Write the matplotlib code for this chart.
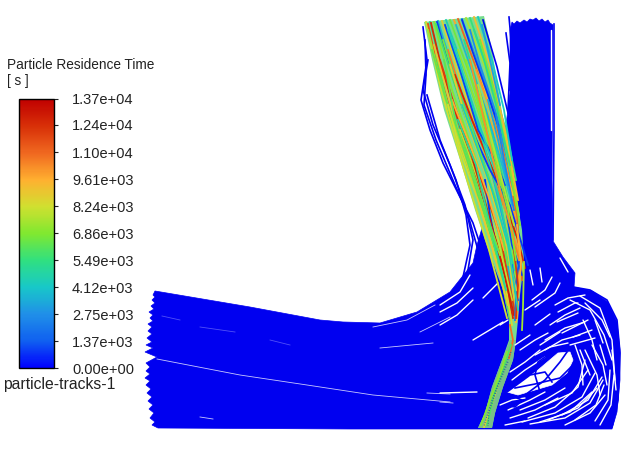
"""Particle residence time tracks, redrawn from the picture (coordinates read in image pixels)."""

import matplotlib
matplotlib.use("Agg")
import matplotlib.pyplot as plt
from matplotlib.cm import ScalarMappable
from matplotlib.colors import LinearSegmentedColormap, Normalize
from matplotlib.patches import Polygon

plt.rcParams['font.family'] = ['Liberation Sans', 'DejaVu Sans']

W, H = 625, 457
BLUE = '#0000f0'

tick_values = [0, 1370, 2750, 4120, 5490, 6860, 8240, 9610, 11000, 12400, 13700]
tick_labels = ['0.00e+00', '1.37e+03', '2.75e+03', '4.12e+03', '5.49e+03', '6.86e+03',
               '8.24e+03', '9.61e+03', '1.10e+04', '1.24e+04', '1.37e+04']
ramp_colors = ['#0000ff', '#1060f0', '#2090e8', '#18c8c8', '#30e080', '#80e830',
               '#d0e030', '#ffb030', '#f06820', '#d83008', '#c00000']

# outline of the solid blue mass, serrated where the tracks stop
mass_outline = [
    (155, 291), (153, 295), (155, 297), (152, 300), (155, 303), (151, 306), (154, 309),
    (149, 312), (153, 315), (150, 318), (153, 321), (148, 324), (152, 327), (148, 331),
    (152, 334), (147, 338), (152, 342), (146, 345), (153, 348), (145, 352), (157, 357),
    (146, 363), (150, 367), (146, 371), (150, 374), (145, 378), (150, 381), (146, 385),
    (151, 389), (147, 393), (152, 397), (148, 401), (153, 405), (149, 409), (154, 413),
    (150, 418), (155, 422), (152, 425), (158, 428), (350, 429), (612, 429), (617, 412),
    (620, 380), (620, 350), (617, 322), (608, 302), (592, 291), (574, 287), (575, 273),
    (563, 257), (553, 241), (552, 180), (553, 25), (550, 23), (548, 20), (545, 22),
    (542, 19), (539, 21), (536, 18), (533, 20), (530, 19), (527, 22), (524, 20),
    (520, 23), (517, 21), (514, 24), (512, 22), (510, 30), (510, 93), (506, 125),
    (490, 200), (480, 235), (477, 245), (473, 263), (450, 292), (417, 312), (380, 323),
    (343, 322), (320, 320), (250, 307),
]

# white crescent inside the recirculation
open_region = [(507, 392), (522, 382), (538, 370), (558, 353), (570, 352), (573, 360),
               (567, 373), (552, 385), (535, 390), (518, 395)]

# barely visible gaps at the inlet
faint_gaps = [
    [(162, 316), (180, 320)],
    [(200, 327), (235, 332)],
    [(270, 340), (290, 345)],
]

# thin pale gaps in the left of the mass
thin_gaps = [
    [(157, 359), (240, 375), (307, 385), (373, 395), (450, 402)],
    [(427, 393), (450, 394)],
    [(380, 348), (433, 343)],
    [(373, 327), (407, 320), (435, 305)],
    [(420, 332), (450, 317)],
    [(200, 417), (213, 419)],
    [(440, 402), (453, 403)],
]

# white gaps between the tracks near the elbow and the recirculation
gaps = [
    [(440, 305), (460, 292), (470, 275)],
    [(440, 312), (457, 303), (473, 288)],
    [(440, 325), (457, 315), (473, 300)],
    [(483, 298), (498, 283)],
    [(473, 340), (503, 322)],
    [(440, 393), (477, 392)],
    [(522, 422), (555, 413), (582, 397), (595, 373)],
    [(595, 421), (608, 400), (610, 370)],
    [(562, 415), (588, 400), (602, 377)],
    [(545, 405), (572, 393), (588, 370)],
    [(528, 418), (555, 407), (578, 387), (585, 360)],
    [(508, 410), (530, 400), (545, 392)],
    [(575, 420), (596, 405), (604, 385)],
    [(540, 422), (570, 412), (592, 392)],
    [(530, 424), (565, 418), (590, 403), (603, 380)],
    [(500, 405), (512, 400), (525, 398)],
    [(510, 418), (535, 410), (558, 398)],
    [(520, 410), (545, 400), (565, 388)],
    [(548, 420), (578, 408), (597, 388)],
    [(565, 425), (590, 413), (605, 395)],
    [(600, 425), (611, 405), (614, 375)],
    [(585, 350), (597, 375), (600, 395)],
    [(592, 345), (603, 365), (607, 385)],
    [(575, 345), (582, 365), (583, 385)],
    [(583, 320), (592, 340), (597, 360)],
    [(570, 300), (590, 310), (604, 335), (612, 360)],
    [(580, 296), (600, 308), (612, 340), (615, 380)],
    [(612, 350), (616, 390)],
    [(545, 340), (565, 328), (585, 322)],
    [(545, 350), (562, 340), (580, 335)],
    [(535, 355), (550, 347), (568, 343)],
    [(550, 325), (565, 315), (580, 308)],
    [(555, 305), (568, 298), (585, 295)],
    [(520, 350), (535, 340), (548, 333)],
    [(525, 310), (540, 300)],
    [(515, 345), (530, 335)],
    [(512, 380), (525, 370), (545, 357)],
    [(510, 372), (525, 362), (540, 350)],
    [(558, 312), (575, 303), (578, 303)],
    [(557, 322), (578, 313)],
    [(562, 333), (588, 320)],
    [(585, 303), (602, 320), (610, 337)],
    [(595, 320), (603, 343)],
    [(573, 337), (592, 330)],
    [(570, 345), (595, 338)],
    [(552, 277), (545, 290), (532, 300)],
    [(560, 283), (555, 293), (535, 307)],
    [(500, 325), (508, 320)],
    [(535, 325), (550, 314)],
    [(540, 345), (560, 332)],
    [(580, 350), (590, 375)],
    [(600, 345), (606, 365)],
    [(505, 425), (525, 421)],
    [(551, 30), (551, 130)],
    [(560, 258), (568, 272)],
    [(530, 270), (533, 285)],
    [(540, 268), (542, 282)],
]

# blue tracks on top of the white areas and round the bundle
blue_tracks = [
    [(507, 392), (530, 375), (545, 372), (552, 382)],
    [(525, 395), (545, 380), (560, 362), (567, 352)],
    [(540, 392), (535, 375), (538, 362), (548, 355)],
    [(515, 388), (535, 384), (560, 378), (572, 366)],
    [(505, 400), (512, 396), (522, 400), (515, 407), (505, 405)],
    [(423, 27), (427, 60), (421, 100), (430, 130), (443, 163), (460, 197), (473, 223), (482, 250)],
    [(425, 40), (426, 75), (424, 105), (436, 140), (452, 178), (468, 215), (478, 250)],
    [(428, 60), (423, 90), (433, 125), (450, 165), (465, 205), (473, 240), (468, 270)],
    [(427, 95), (440, 140), (456, 180), (466, 215), (470, 245), (463, 277)],
    [(509, 17), (512, 50), (510, 90)],
    [(506, 33), (510, 63), (508, 110)],
    [(483, 20), (497, 67), (508, 113)],
    [(554, 24), (554, 130), (553, 240)],
    [(573, 287), (590, 290), (607, 300), (617, 320), (620, 353), (618, 400), (612, 427)],
]

# coloured tracks through the narrow bundle, with their residence time
bundle_outline = [(424, 22), (484, 16), (492, 50), (500, 100), (512, 170), (522, 230),
                  (524, 262), (520, 295), (518, 320), (516, 340), (513, 360), (503, 387),
                  (495, 413), (492, 428), (478, 428), (485, 413), (492, 387), (502, 360),
                  (509, 340), (509, 320), (503, 290), (490, 255), (475, 210), (460, 160),
                  (444, 110), (432, 60)]

track_values = [8200, 5000, 11500, 7000, 3600, 12500, 8800, 4500, 6600, 9800,
                11000, 3000, 7600, 5600, 9300, 4200, 12000, 6200, 8500, 3300,
                10500, 7200, 5200, 9000, 2600, 12600, 6800, 10000, 4800, 8000,
                800, 1000, 600, 900, 700, 12800, 9500, 7400, 2000, 1200,
                12200, 10800, 8600, 6000, 7000,
                7400, 6400, 8200, 4400, 5800, 3800, 7000, 9600, 5200, 3200,
                6600, 8800, 4600, 7800, 10200, 5000, 3400, 9000, 6200, 2400]
track_points = [
    [(426, 22), (441, 90), (464, 170), (489, 250), (507, 318)],
    [(430, 22), (446, 85), (468, 160), (492, 235), (510, 310)],
    [(428, 24), (436, 60), (450, 110), (470, 170), (490, 230), (510, 300)],
    [(434, 22), (452, 90), (476, 160), (498, 230), (514, 310)],
    [(438, 21), (456, 80), (480, 150), (502, 225), (515, 315)],
    [(431, 23), (442, 70), (458, 120), (479, 185), (499, 250), (513, 318)],
    [(442, 21), (462, 85), (486, 155), (506, 225), (516, 320)],
    [(446, 20), (466, 75), (490, 145), (510, 220), (517, 300)],
    [(450, 20), (470, 75), (494, 145), (512, 215), (518, 290)],
    [(454, 20), (474, 75), (497, 140), (514, 205), (520, 270)],
    [(458, 19), (480, 78), (502, 145), (517, 215), (522, 280)],
    [(462, 19), (484, 80), (505, 150), (518, 210)],
    [(466, 18), (486, 70), (506, 140), (519, 215)],
    [(470, 18), (488, 70), (506, 130), (516, 180)],
    [(474, 17), (490, 65), (506, 135), (518, 200)],
    [(478, 17), (492, 60), (504, 110), (512, 160)],
    [(440, 60), (456, 110), (478, 170), (500, 235), (516, 318)],
    [(436, 55), (450, 115), (472, 180), (494, 245), (510, 320)],
    [(446, 100), (462, 150), (484, 210), (503, 270), (512, 325)],
    [(452, 45), (470, 100), (490, 165), (508, 240)],
    [(448, 50), (462, 95), (484, 150), (505, 210), (520, 262)],
    [(458, 50), (478, 110), (498, 175), (512, 245), (518, 300)],
    [(464, 40), (482, 100), (500, 165), (515, 235)],
    [(472, 50), (485, 90), (500, 150), (513, 195)],
    [(470, 30), (480, 65), (495, 110), (506, 150)],
    [(455, 75), (472, 120), (495, 175), (518, 240), (525, 268)],
    [(480, 40), (494, 90), (508, 160), (520, 225)],
    [(476, 70), (492, 115), (507, 170), (520, 250), (517, 318)],
    [(468, 90), (484, 145), (500, 200), (514, 270)],
    [(460, 130), (478, 180), (498, 240), (512, 300)],
    [(437, 22), (449, 65), (465, 115), (490, 170), (510, 205), (528, 265)],
    [(445, 25), (460, 70), (478, 130), (495, 160), (505, 185)],
    [(485, 180), (490, 215), (497, 250), (500, 265)],
    [(503, 180), (507, 215), (512, 245), (522, 275)],
    [(462, 20), (472, 50), (488, 95), (498, 125)],
    [(470, 150), (486, 205), (502, 265), (514, 315)],
    [(517, 225), (521, 262), (518, 300), (516, 322)],
    [(524, 262), (523, 307), (522, 330)],
    [(512, 265), (516, 295), (515, 320)],
    [(519, 262), (515, 290), (518, 300)],
    [(514, 250), (518, 285), (516, 318)],
    [(510, 325), (513, 340), (509, 358)],
    [(503, 365), (498, 385), (490, 410), (484, 427)],
    [(511, 345), (503, 370), (494, 395), (487, 425)],
    [(507, 352), (498, 378), (490, 400), (481, 425)],
    [(428, 30), (440, 80), (458, 135), (480, 195), (500, 255)],
    [(432, 50), (446, 100), (466, 150), (486, 215), (504, 280)],
    [(448, 105), (460, 150), (478, 200), (496, 260)],
    [(448, 30), (460, 65), (476, 115), (495, 170), (510, 225)],
    [(436, 24), (450, 70), (468, 125), (488, 175), (506, 245)],
    [(456, 25), (468, 60), (486, 110), (502, 165), (512, 205)],
    [(466, 60), (480, 110), (494, 155), (508, 210), (516, 260)],
    [(452, 100), (470, 145), (488, 195), (504, 250)],
    [(474, 30), (484, 60), (496, 105), (510, 165)],
    [(482, 25), (490, 60), (500, 105)],
    [(443, 40), (458, 90), (476, 140), (496, 200), (508, 265)],
    [(450, 65), (468, 125), (486, 175), (504, 235), (516, 290)],
    [(462, 105), (478, 150), (492, 190), (508, 245), (518, 310)],
    [(478, 85), (488, 125), (502, 180), (514, 225)],
    [(470, 60), (484, 120), (500, 190), (516, 245)],
    [(458, 120), (476, 165), (490, 225), (506, 290)],
    [(488, 100), (498, 140), (508, 185)],
    [(434, 45), (448, 95), (468, 165), (490, 240), (508, 305)],
    [(444, 60), (456, 125), (478, 195), (498, 250)],
    [(496, 115), (504, 160), (514, 210)],
]

# the narrow strip down to the outlet
strip_outline = [(510, 340), (516, 340), (513, 360), (503, 387), (495, 413), (492, 428),
                 (478, 428), (485, 413), (492, 387), (502, 360)]
strip_flecks = [
    [(511, 352), (502, 374), (492, 400), (484, 426)],
    [(508, 362), (498, 386), (489, 412), (488, 426)],
]

norm = Normalize(0, 13700)
cmap = LinearSegmentedColormap.from_list('residence', ramp_colors)

fig = plt.figure(figsize=(W / 100, H / 100), dpi=100)
ax = fig.add_axes([0, 0, 1, 1])
ax.set_xlim(0, W)
ax.set_ylim(H, 0)
ax.axis('off')

ax.add_patch(Polygon(mass_outline, closed=True, fc=BLUE, ec=BLUE, lw=0.5))
ax.add_patch(Polygon(open_region, closed=True, fc='white', ec='white', lw=0.5))
for gap in faint_gaps:
    ax.plot(*zip(*gap), color='#5050f8', lw=0.6)
for gap in thin_gaps:
    ax.plot(*zip(*gap), color='#c8c8ff', lw=0.6)
for gap in gaps:
    ax.plot(*zip(*gap), color='white', lw=1.0, solid_capstyle='round')
for track in blue_tracks:
    ax.plot(*zip(*track), color=BLUE, lw=1.2)

ax.add_patch(Polygon(bundle_outline, closed=True, fc='#78dc90', ec='none'))
for value, track in zip(track_values, track_points):
    ax.plot(*zip(*track), color=cmap(norm(value)), lw=1.3)
ax.add_patch(Polygon(strip_outline, closed=True, fc='#78c088', ec='none'))
for fleck in strip_flecks:
    ax.plot(*zip(*fleck), color='#2060a0', lw=0.7, ls=':')

# colour scale
cax = fig.add_axes([19 / W, 1 - 368 / H, 35 / W, 269 / H])
cb = fig.colorbar(ScalarMappable(norm=norm, cmap=cmap), cax=cax)
cb.set_ticks(tick_values)
cb.set_ticklabels(tick_labels)
cb.ax.tick_params(length=3, width=0.8, pad=10, labelsize=10.5, colors='#222222')
cb.ax.minorticks_off()
cb.outline.set_linewidth(1.0)

ax.text(7, 65, 'Particle Residence Time', fontsize=9.8, color='#222222', va='center')
ax.text(7, 81, '[ s ]', fontsize=9.8, color='#222222', va='center')
ax.text(3, 385, 'particle-tracks-1', fontsize=11.3, color='#222222', va='center')

fig.savefig('out.png', dpi=100)
